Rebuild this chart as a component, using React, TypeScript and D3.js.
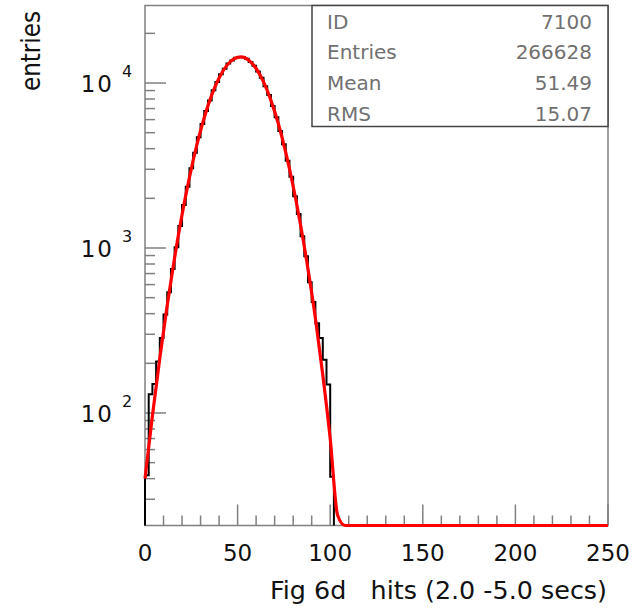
import React from "react";
import * as d3 from "d3";

// ---- data ----
const binWidth = 2;
const binStarts = d3.range(0, 102, 2);
const binValues = [
  42, 130, 150, 205, 285, 395, 540, 745, 1010, 1360,
  1820, 2350, 3040, 3780, 4690, 5640, 6760, 7830, 9050, 10130,
  11300, 12220, 13120, 13700, 14230, 14360, 14310, 14040, 13420, 12740,
  11750, 10760, 9570, 8470, 7260, 6210, 5120, 4250, 3380, 2700,
  2060, 1610, 1180, 890, 620, 470, 350, 285, 210, 149,
  41,
];
const fitX = [0, 4, 8, 12, 16, 20, 24, 28, 32, 36, 40, 44, 48, 52, 56, 60, 64, 68, 72, 76, 80, 84, 88, 92, 96, 100, 104, 108, 112, 250];
const fitY = [40, 96, 215, 450, 875, 1590, 2680, 4220, 6180, 8440, 10720, 12700, 14000, 14390, 13740, 12250, 10160, 7852, 5662, 3793, 2366, 1377, 746, 376, 170, 70, 24, 8, 2.5, 0.1];
const xTickLabels = [0, 50, 100, 150, 200, 250];
const yDecades = [2, 3, 4];
const statLabels = ["ID", "Entries", "Mean", "RMS"];
const statValues = ["7100", "266628", "51.49", "15.07"];
const xTitle = "Fig 6d   hits (2.0 -5.0 secs)";
const yTitle = "entries";

export default function App() {
  const L = 145, R = 608, T = 5.5, B = 525.5;
  const yMin = 20.8, yMax = 29500;
  const x = d3.scaleLinear().domain([0, 250]).range([L, R]);
  const y = d3.scaleLog().domain([yMin, yMax]).range([B, T]);
  const yc = (v: number) => y(Math.max(v, yMin));

  // histogram step path
  let hp = `M${x(binStarts[0])},${B}`;
  binStarts.forEach((s, i) => {
    hp += `L${x(s)},${yc(binValues[i])}L${x(s + binWidth)},${yc(binValues[i])}`;
  });
  hp += `L${x(binStarts[binStarts.length - 1] + binWidth)},${B}`;

  const fitLine = d3
    .line<number>()
    .x((_, i) => x(fitX[i]))
    .y((v) => yc(v))
    .curve(d3.curveMonotoneX);

  const xMinor = d3.range(0, 251, 10);
  const yMinor: number[] = [];
  [10, 100, 1000, 10000].forEach((d) => {
    for (let m = 2; m <= 9; m++) {
      const v = m * d;
      if (v > yMin && v < yMax) yMinor.push(v);
    }
  });

  const axisColor = "#808080";
  const font = "DejaVu Sans, Arial, sans-serif";

  return (
    <svg width={640} height={615} style={{ position: "absolute", left: 0, top: 0, background: "#fff" }}>
      {/* frame */}
      <rect x={L} y={T} width={R - L} height={B - T} fill="none" stroke={axisColor} strokeWidth={1.5} />
      {/* x ticks */}
      {xMinor.map((v) => (
        <line key={"xt" + v} x1={x(v)} x2={x(v)} y1={B} y2={B - (v % 50 === 0 ? 21 : 10)} stroke={axisColor} strokeWidth={1.5} />
      ))}
      {/* y ticks */}
      {yMinor.map((v) => (
        <line key={"ym" + v} x1={L} x2={L + 10} y1={y(v)} y2={y(v)} stroke={axisColor} strokeWidth={1.5} />
      ))}
      {yDecades.map((d) => (
        <line key={"yM" + d} x1={L} x2={L + 21} y1={y(Math.pow(10, d))} y2={y(Math.pow(10, d))} stroke={axisColor} strokeWidth={1.5} />
      ))}
      {/* histogram */}
      <path d={hp} fill="none" stroke="#000" strokeWidth={2} />
      {/* fit */}
      <path d={fitLine(fitY) || ""} fill="none" stroke="#ff0000" strokeWidth={3.2} strokeLinejoin="round" />
      {/* x tick labels */}
      {xTickLabels.map((v) => (
        <text key={"xl" + v} x={x(v)} y={561} textAnchor="middle" fontFamily={font} fontSize={23} fill="#111">
          {v}
        </text>
      ))}
      {/* y tick labels */}
      {yDecades.map((d) => (
        <g key={"yl" + d}>
          <text x={114} y={y(Math.pow(10, d)) + 9} textAnchor="end" fontFamily={font} fontSize={23} letterSpacing={2} fill="#111">
            10
          </text>
          <text x={122} y={y(Math.pow(10, d)) - 6} fontFamily={font} fontSize={16} fill="#111">
            {d}
          </text>
        </g>
      ))}
      {/* axis titles */}
      <text x={270} y={599} fontFamily={font} fontSize={25} fill="#111" textLength={337} lengthAdjust="spacingAndGlyphs" style={{ whiteSpace: "pre" }}>
        {xTitle}
      </text>
      <text x={30} y={51} textAnchor="middle" dominantBaseline="central" transform="rotate(-90, 30, 51)" fontFamily={font} fontSize={27} fill="#111" textLength={80} lengthAdjust="spacingAndGlyphs">
        {yTitle}
      </text>
      {/* stats box */}
      <rect x={312} y={T} width={R - 312} height={126.5 - T} fill="#fff" stroke="#444" strokeWidth={1.5} />
      {statLabels.map((s, i) => (
        <g key={"st" + i}>
          <text x={327} y={28.5 + i * 30.7} fontFamily={font} fontSize={20} fill="#707070">
            {s}
          </text>
          <text x={592} y={28.5 + i * 30.7} textAnchor="end" fontFamily={font} fontSize={20} fill="#707070">
            {statValues[i]}
          </text>
        </g>
      ))}
    </svg>
  );
}
